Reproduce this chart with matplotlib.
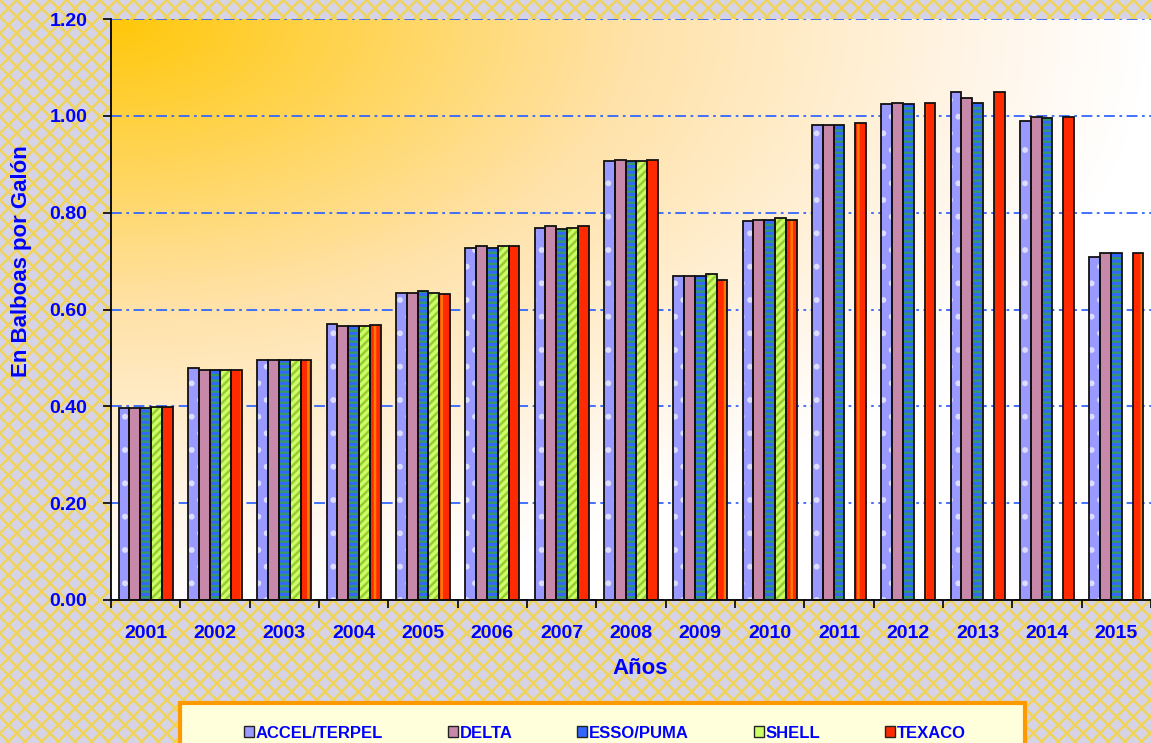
import numpy as np
import matplotlib.pyplot as plt
from matplotlib.colors import LinearSegmentedColormap
from matplotlib.patches import Rectangle, Patch

# datos: precio por galón (balboas)
years = ['2001', '2002', '2003', '2004', '2005', '2006', '2007', '2008',
         '2009', '2010', '2011', '2012', '2013', '2014', '2015']
accel = [0.396, 0.479, 0.495, 0.571, 0.635, 0.728, 0.769, 0.906, 0.670, 0.782,
         0.982, 1.024, 1.049, 0.989, 0.708]
delta = [0.396, 0.476, 0.495, 0.565, 0.635, 0.731, 0.772, 0.909, 0.670, 0.785,
         0.982, 1.027, 1.037, 0.998, 0.717]
esso = [0.396, 0.476, 0.495, 0.565, 0.638, 0.728, 0.766, 0.906, 0.670, 0.785,
        0.982, 1.024, 1.027, 0.995, 0.717]
shell = [0.399, 0.476, 0.495, 0.565, 0.635, 0.731, 0.769, 0.906, 0.673, 0.788,
         np.nan, np.nan, np.nan, np.nan, np.nan]
texaco = [0.399, 0.476, 0.495, 0.568, 0.632, 0.731, 0.772, 0.909, 0.661, 0.785,
          0.986, 1.027, 1.049, 0.998, 0.717]
series_names = ['ACCEL/TERPEL', 'DELTA', 'ESSO/PUMA', 'SHELL', 'TEXACO']

plt.rcParams['font.family'] = ['Liberation Sans', 'DejaVu Sans']
plt.rcParams['font.weight'] = 'bold'
plt.rcParams['hatch.linewidth'] = 1.8
blue = '#0000ff'

fig = plt.figure(figsize=(11.51, 7.43), dpi=100)
fig.patch.set_facecolor('#d6d3e6')

# fondo con trama
fig.patches.append(Rectangle((0, 0), 1, 1, transform=fig.transFigure, facecolor='none',
                             edgecolor='#f0d45a', hatch='xx', linewidth=0, zorder=-10))

ax = fig.add_axes([111 / 1151, 1 - 600 / 743, 1040 / 1151, 581 / 743])
ax.set_facecolor('white')

# degradado del área de trazado (amarillo arriba a la izquierda)
gx, gy = np.meshgrid(np.linspace(0, 1, 300), np.linspace(0, 1, 200))
r = np.sqrt(gx ** 2 + gy ** 2)
cmap = LinearSegmentedColormap.from_list('g', [(0, '#ffc80a'), (0.5, '#ffe2a8'),
                                               (0.85, '#fff6ea'), (1.0, '#ffffff')])
ax.imshow(np.clip(r, 0, 1), cmap=cmap, vmin=0, vmax=1, extent=(-0.5, 14.5, 0, 1.2),
          origin='upper', aspect='auto', zorder=0, interpolation='bilinear')

x = np.arange(len(years))
w = 0.156
styles = [
    dict(color='#9999ff', hatch='.', hc='#dcdcff'),
    dict(color='#c888aa', hatch=None, hc='#c888aa'),
    dict(color='#3366ff', hatch='---', hc='#339966'),
    dict(color='#ccff66', hatch='////', hc='#99cc33'),
    dict(color='#ff2a00', hatch='|', hc='#ff7a00'),
]
data = [accel, delta, esso, shell, texaco]
for i, (vals, st) in enumerate(zip(data, styles)):
    pos = x + (i - 2) * w
    ax.bar(pos, vals, w, color=st['color'], hatch=st['hatch'], edgecolor=st['hc'],
           linewidth=0, zorder=2)
    ax.bar(pos, vals, w, fill=False, edgecolor='#111111', linewidth=1.3, zorder=3)

ax.set_xlim(-0.5, 14.5)
ax.set_ylim(0, 1.2)
ax.set_yticks(np.arange(0, 1.21, 0.2))
ax.yaxis.set_major_formatter(plt.FormatStrFormatter('%.2f'))
ax.set_xticks(x)
ax.set_xticklabels(years)
ax.set_xticks(np.arange(-0.5, 15, 1), minor=True)
ax.tick_params(axis='x', which='major', length=0, pad=18, labelsize=14, labelcolor=blue)
ax.tick_params(axis='x', which='minor', length=6, width=1.2, direction='out')
ax.tick_params(axis='y', length=6, width=1.2, pad=11, labelsize=14, labelcolor=blue)

ax.set_axisbelow(True)
ax.yaxis.grid(True, color='#3366ff', linewidth=1.3, linestyle=(0, (6, 2.5, 1.5, 2.5)))
for s in ['top', 'right']:
    ax.spines[s].set_visible(False)
for s in ['left', 'bottom']:
    ax.spines[s].set_linewidth(1.3)

ax.set_ylabel('En Balboas por Galón', fontsize=16, color=blue, fontweight='bold')
ax.yaxis.set_label_coords(-0.076, 0.583)
ax.set_xlabel('Años', fontsize=16, color=blue, fontweight='bold')
ax.xaxis.set_label_coords(0.509, -0.099)

# recuadro de la leyenda
fig.patches.append(Rectangle((180 / 1151, -0.05), 845 / 1151, 0.05 + 40 / 743,
                             transform=fig.transFigure, facecolor='#ffffdc',
                             edgecolor='#ff9900', linewidth=3, zorder=1))
handles = [Patch(facecolor=st['color'], edgecolor='#222222', linewidth=1) for st in styles]
leg = fig.legend(handles, series_names, loc='center', bbox_to_anchor=(605 / 1151, 1 - 733 / 743),
                 ncol=5, frameon=False, fontsize=12, handlelength=0.6, handleheight=0.6,
                 handletextpad=0.1, columnspacing=3.9)
for t in leg.get_texts():
    t.set_color(blue)
    t.set_fontweight('bold')

fig.savefig('out.png', dpi=100, facecolor=fig.get_facecolor())
